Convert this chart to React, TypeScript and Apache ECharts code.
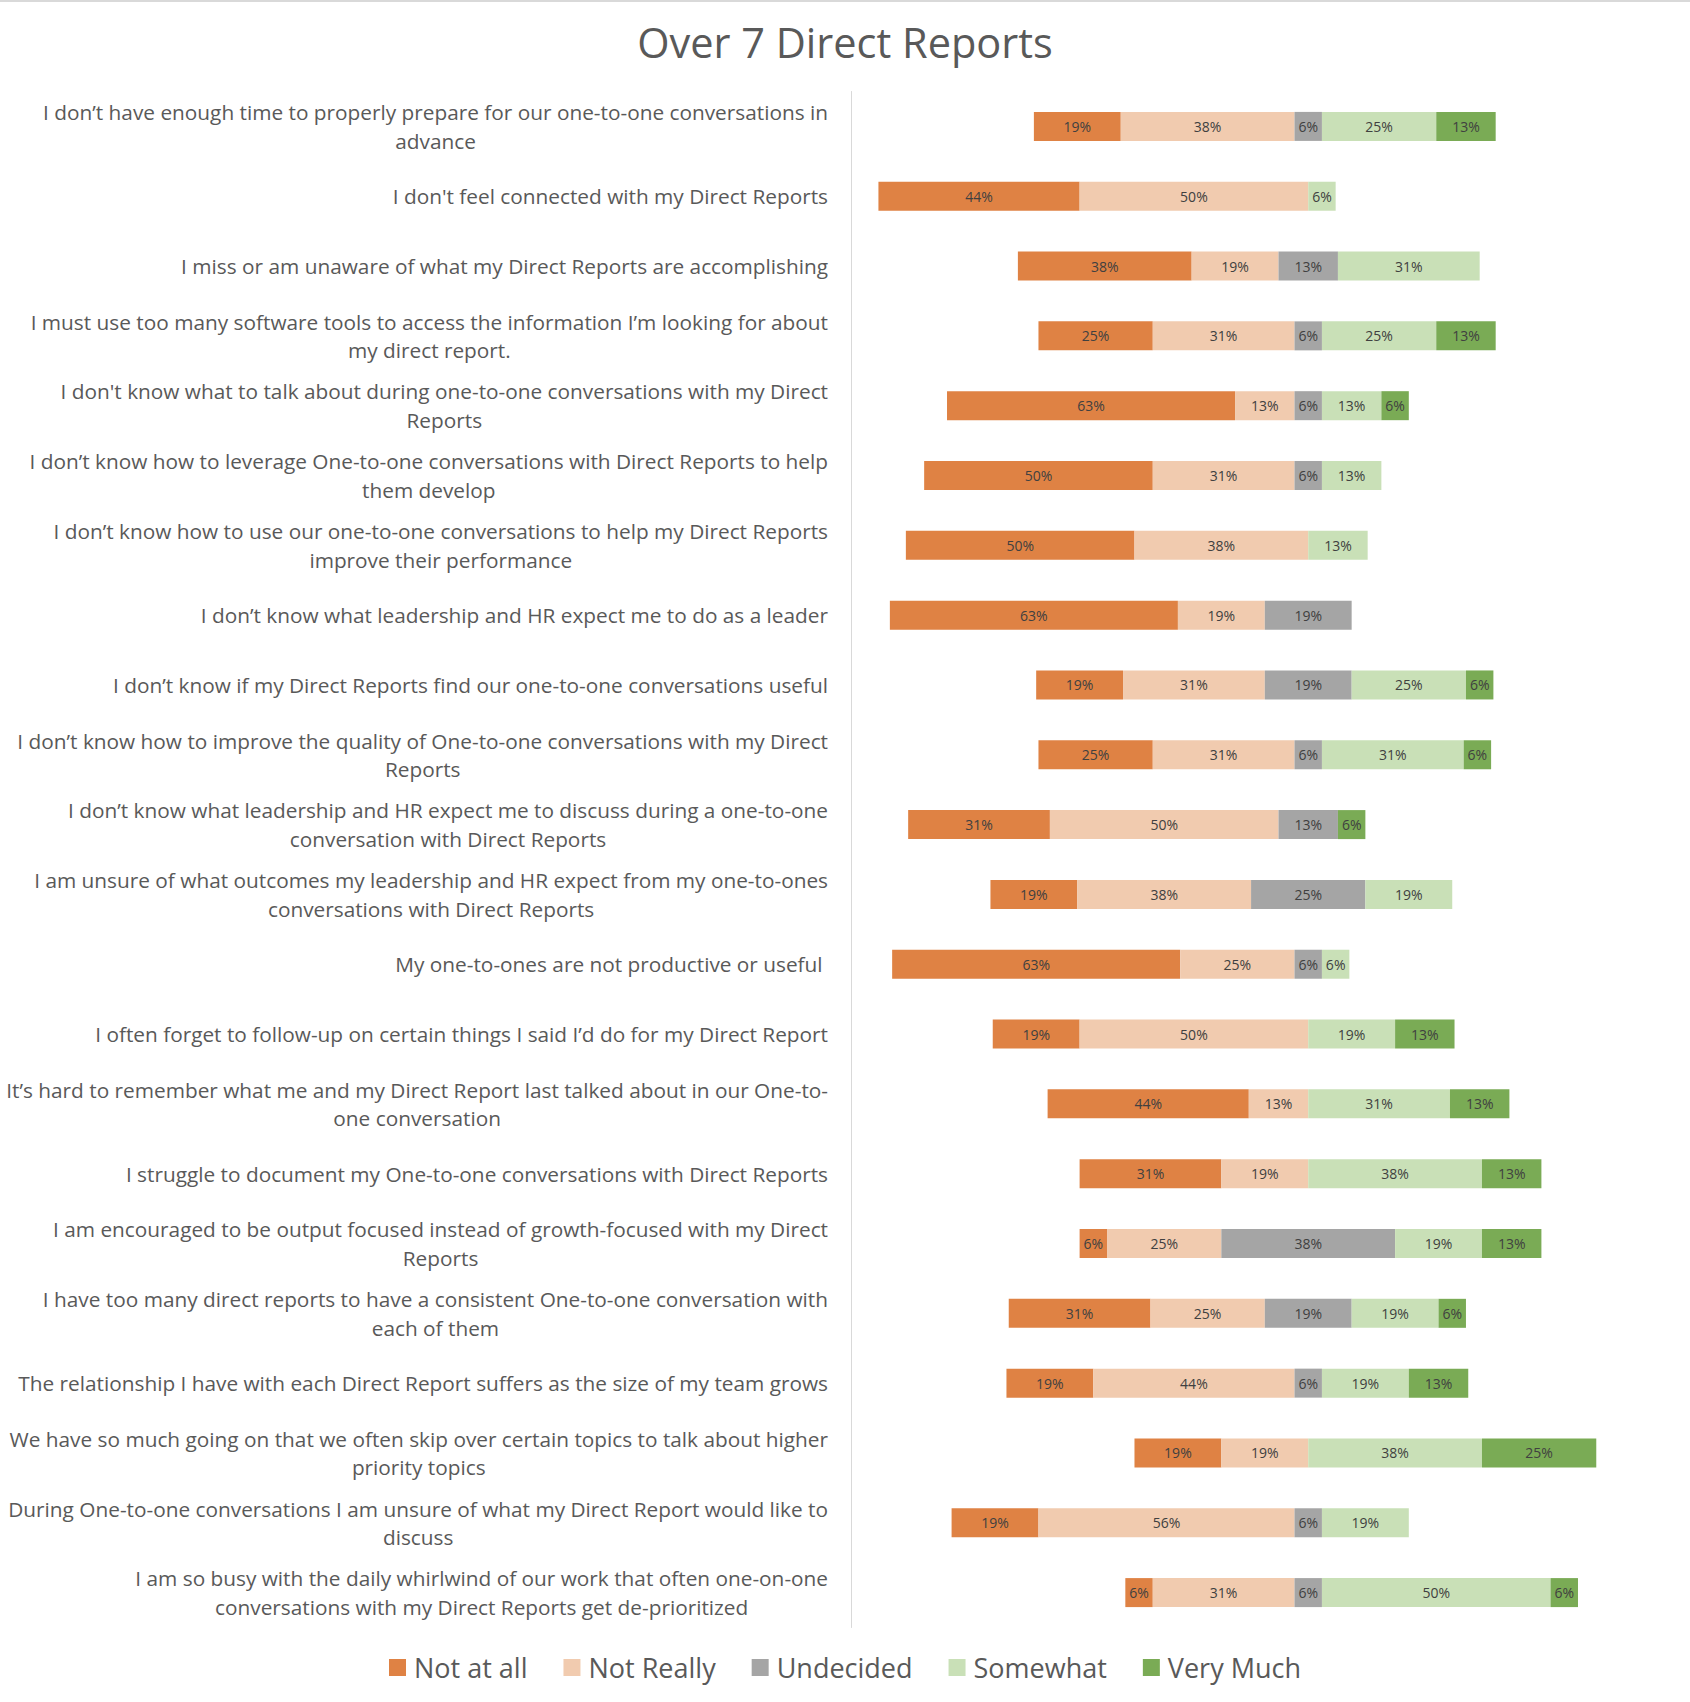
import React, { useEffect, useRef } from "react";
import * as echarts from "echarts";

// Survey statements, top to bottom (line breaks as they wrap on the axis)
const questions: string[] = [
  "I don’t have enough time to properly prepare for our one-to-one conversations in\nadvance",
  "I don't feel connected with my Direct Reports",
  "I miss or am unaware of what my Direct Reports are accomplishing",
  "I must use too many software tools to access the information I’m looking for about\nmy direct report.",
  "I don't know what to talk about during one-to-one conversations with my Direct\nReports",
  "I don’t know how to leverage One-to-one conversations with Direct Reports to help\nthem develop",
  "I don’t know how to use our one-to-one conversations to help my Direct Reports\nimprove their performance",
  "I don’t know what leadership and HR expect me to do as a leader",
  "I don’t know if my Direct Reports find our one-to-one conversations useful",
  "I don’t know how to improve the quality of One-to-one conversations with my Direct\nReports",
  "I don’t know what leadership and HR expect me to discuss during a one-to-one\nconversation with Direct Reports",
  "I am unsure of what outcomes my leadership and HR expect from my one-to-ones\nconversations with Direct Reports",
  "My one-to-ones are not productive or useful ",
  "I often forget to follow-up on certain things I said I’d do for my Direct Report",
  "It’s hard to remember what me and my Direct Report last talked about in our One-to-\none conversation",
  "I struggle to document my One-to-one conversations with Direct Reports",
  "I am encouraged to be output focused instead of growth-focused with my Direct\nReports",
  "I have too many direct reports to have a consistent One-to-one conversation with\neach of them",
  "The relationship I have with each Direct Report suffers as the size of my team grows",
  "We have so much going on that we often skip over certain topics to talk about higher\npriority topics",
  "During One-to-one conversations I am unsure of what my Direct Report would like to\ndiscuss",
  "I am so busy with the daily whirlwind of our work that often one-on-one\nconversations with my Direct Reports get de-prioritized",
];

// Response shares in percent, one entry per statement
const notAtAll = [19, 44, 38, 25, 63, 50, 50, 63, 19, 25, 31, 19, 63, 19, 44, 31, 6, 31, 19, 19, 19, 6];
const notReally = [38, 50, 19, 31, 13, 31, 38, 19, 31, 31, 50, 38, 25, 50, 13, 19, 25, 25, 44, 19, 56, 31];
const undecided = [6, 0, 13, 6, 6, 6, 0, 19, 19, 6, 13, 25, 6, 0, 0, 0, 38, 19, 6, 0, 6, 6];
const somewhat = [25, 6, 31, 25, 13, 13, 13, 0, 25, 31, 0, 19, 6, 19, 31, 38, 19, 19, 19, 38, 19, 50];
const veryMuch = [13, 0, 0, 13, 6, 0, 0, 0, 6, 6, 6, 0, 0, 13, 13, 13, 13, 6, 13, 25, 0, 6];

const responseNames = ["Not at all", "Not Really", "Undecided", "Somewhat", "Very Much"];
const responseColors = ["#DF8244", "#F1CBAF", "#A5A5A5", "#C9E0B7", "#7AAB55"];
const chartTitle = "Over 7 Direct Reports";

export default function App() {
  const ref = useRef<HTMLDivElement>(null);

  useEffect(() => {
    if (!ref.current) return;
    const chart = echarts.init(ref.current, null, { renderer: "svg" });
    const font = "'Open Sans', sans-serif";
    const responses = [notAtAll, notReally, undecided, somewhat, veryMuch];

    // Invisible lead-in so that the Undecided segment straddles zero
    const leadIn = questions.map((_, i) => -(notAtAll[i] + notReally[i] + undecided[i] / 2));

    const series: any[] = [
      {
        name: "lead",
        type: "bar",
        stack: "total",
        stackStrategy: "all",
        barWidth: 29,
        silent: true,
        itemStyle: { color: "rgba(0,0,0,0)" },
        label: { show: false },
        data: leadIn,
      },
      ...responses.map((vals, k) => ({
        name: responseNames[k],
        type: "bar",
        stack: "total",
        stackStrategy: "all",
        barWidth: 29,
        itemStyle: { color: responseColors[k] },
        label: {
          show: true,
          position: "inside",
          fontFamily: font,
          fontSize: 14,
          color: "#404040",
          formatter: (p: any) => (p.value > 0 ? `${p.value}%` : ""),
        },
        data: vals,
      })),
    ];

    chart.setOption({
      animation: false,
      backgroundColor: "#ffffff",
      title: {
        text: chartTitle,
        left: "center",
        top: 21,
        padding: 0,
        textStyle: { fontFamily: font, fontSize: 41.5, fontWeight: "normal", color: "#595959" },
      },
      legend: {
        data: responseNames,
        left: "center",
        top: 1654,
        padding: 0,
        icon: "rect",
        itemWidth: 17,
        itemHeight: 17,
        itemGap: 36,
        textStyle: { fontFamily: font, fontSize: 27, color: "#595959", padding: [0, 0, 0, 3] },
      },
      graphic: [
        {
          type: "line",
          shape: { x1: 0, y1: 1, x2: 1690, y2: 1 },
          style: { stroke: "#D9D9D9", lineWidth: 2 },
          silent: true,
        },
      ],
      grid: { left: 851, top: 91.5, width: 823, height: 1536, containLabel: false },
      xAxis: {
        type: "value",
        min: -100,
        max: 80,
        show: false,
      },
      yAxis: {
        type: "category",
        inverse: true,
        data: questions,
        axisLine: { show: true, onZero: false, lineStyle: { color: "#D9D9D9", width: 1 } },
        axisTick: { show: false },
        splitLine: { show: false },
        axisLabel: {
          interval: 0,
          margin: 23,
          formatter: (v: string) => `{q|${v}}`,
          rich: {
            q: {
              align: "center",
              fontFamily: font,
              fontSize: 20.8,
              lineHeight: 28.5,
              color: "#595959",
            },
          },
        },
      },
      series,
    });

    return () => chart.dispose();
  }, []);

  return (
    <div
      ref={ref}
      style={{ position: "absolute", left: 0, top: 0, width: 1690, height: 1702, background: "#ffffff" }}
    />
  );
}
